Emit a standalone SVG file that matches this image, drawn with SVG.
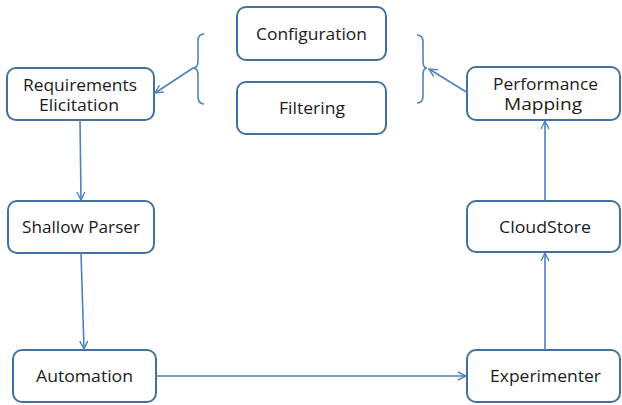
<svg xmlns="http://www.w3.org/2000/svg" width="622" height="405" viewBox="0 0 622 405">
  <defs>
    <marker id="arrow" viewBox="0 0 10 10" refX="9" refY="5" markerWidth="10" markerHeight="10" markerUnits="userSpaceOnUse" orient="auto">
      <path d="M1,1 L9,5 L1,9" fill="none" stroke="#4F81BD" stroke-width="1.4"/>
    </marker>
  </defs>
  <style>
    .box { fill: #ffffff; stroke: #41719C; stroke-width: 2; }
    .lbl { font-family: "Open Sans", "Liberation Sans", sans-serif; font-size: 15.5px; fill: #1a1a1a; text-anchor: start; }
    .conn { fill: none; stroke: #4F81BD; stroke-width: 1.6; }
    .brace { fill: none; stroke: #4F81BD; stroke-width: 1.6; }
  </style>
  <rect width="622" height="405" fill="#ffffff"/>

  <g id="configuration">
    <rect class="box" x="237" y="7" width="149" height="53" rx="9"/>
    <text class="lbl" x="256" y="40" textLength="111" lengthAdjust="spacingAndGlyphs">Configuration</text>
  </g>
  <g id="filtering">
    <rect class="box" x="237" y="82" width="149" height="52" rx="9"/>
    <text class="lbl" x="279" y="114" textLength="66" lengthAdjust="spacingAndGlyphs">Filtering</text>
  </g>
  <g id="requirements-elicitation">
    <rect class="box" x="7" y="68" width="147" height="52" rx="9"/>
    <text class="lbl" x="23" y="91" textLength="114" lengthAdjust="spacingAndGlyphs">Requirements</text>
    <text class="lbl" x="39" y="111" textLength="80" lengthAdjust="spacingAndGlyphs">Elicitation</text>
  </g>
  <g id="performance-mapping">
    <rect class="box" x="467" y="67" width="153" height="53" rx="9"/>
    <text class="lbl" x="493" y="90" textLength="105" lengthAdjust="spacingAndGlyphs">Performance</text>
    <text class="lbl" x="504" y="110" textLength="78" lengthAdjust="spacingAndGlyphs">Mapping</text>
  </g>
  <g id="shallow-parser">
    <rect class="box" x="8" y="201" width="146" height="52" rx="9"/>
    <text class="lbl" x="22" y="233" textLength="118" lengthAdjust="spacingAndGlyphs">Shallow Parser</text>
  </g>
  <g id="cloudstore">
    <rect class="box" x="467" y="201" width="153" height="51" rx="9"/>
    <text class="lbl" x="499" y="233" textLength="92" lengthAdjust="spacingAndGlyphs">CloudStore</text>
  </g>
  <g id="automation">
    <rect class="box" x="13" y="350" width="143" height="52" rx="9"/>
    <text class="lbl" x="36" y="382" textLength="97" lengthAdjust="spacingAndGlyphs">Automation</text>
  </g>
  <g id="experimenter">
    <rect class="box" x="467" y="350" width="153" height="52" rx="9"/>
    <text class="lbl" x="490" y="382" textLength="111" lengthAdjust="spacingAndGlyphs">Experimenter</text>
  </g>

  <g id="connectors">
    <!-- braces grouping Configuration and Filtering -->
    <path class="brace" d="M204,34 Q198,34 198,41 L198,61 Q198,68 193,68 Q198,68 198,75 L198,96 Q198,104 204,104"/>
    <path class="brace" d="M417,35 Q423,35 423,42 L423,61 Q423,68 427,68 Q423,68 423,75 L423,96 Q423,103 417,103"/>
    <!-- flow -->
    <line class="conn" x1="193" y1="68" x2="155" y2="93" marker-end="url(#arrow)"/>
    <line class="conn" x1="468" y1="93" x2="429" y2="69" marker-end="url(#arrow)"/>
    <line class="conn" x1="80" y1="120" x2="81" y2="200" marker-end="url(#arrow)"/>
    <line class="conn" x1="81" y1="253" x2="84" y2="349" marker-end="url(#arrow)"/>
    <line class="conn" x1="156" y1="376" x2="466" y2="376" marker-end="url(#arrow)"/>
    <line class="conn" x1="545" y1="350" x2="545" y2="253" marker-end="url(#arrow)"/>
    <line class="conn" x1="545" y1="201" x2="545" y2="121" marker-end="url(#arrow)"/>
  </g>
</svg>
